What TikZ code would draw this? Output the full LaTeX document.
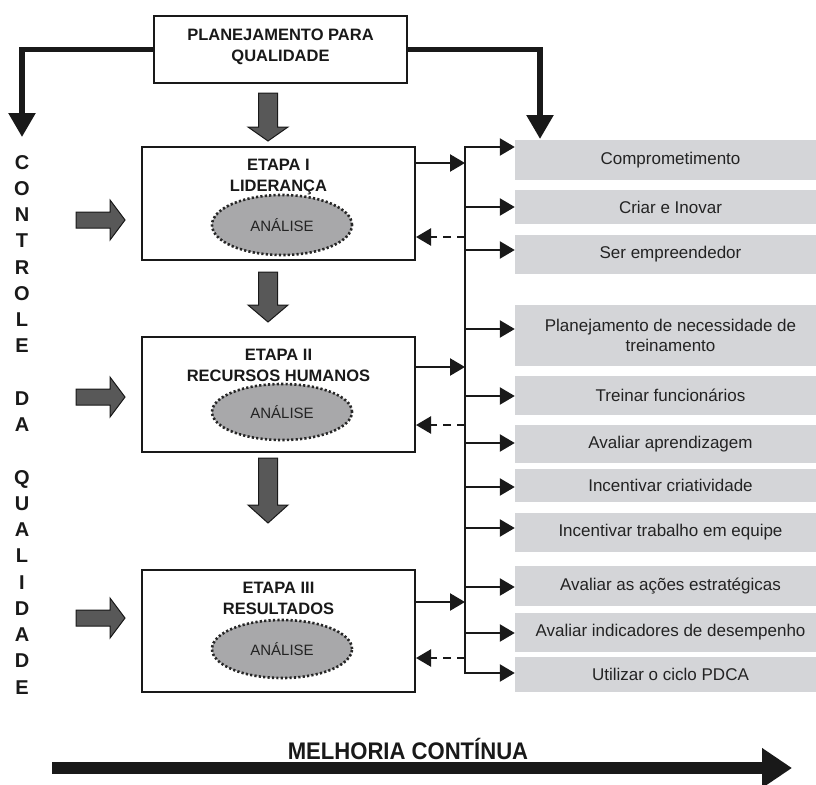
\documentclass[tikz,border=0pt]{standalone}
\usepackage{fontspec}
\usepackage{graphicx}
\setmainfont{Liberation Sans}
\usetikzlibrary{arrows.meta,shapes.geometric,calc}
\definecolor{itemgray}{RGB}{212,213,216}
\definecolor{ellgray}{RGB}{168,168,170}
\definecolor{blockgray}{RGB}{88,88,88}
\definecolor{txtgray}{RGB}{35,35,35}
\begin{document}
\begin{tikzpicture}[x=1pt,y=-1pt,
  stagebox/.style={draw=black!90, line width=2pt, rectangle, inner sep=0pt},
  titletxt/.style={font=\fontsize{16.5}{20.5}\selectfont\bfseries, align=center, inner sep=0pt, anchor=north, text=black!90},
  anal/.style={ellipse, fill=ellgray, draw=black!85, line width=2.6pt, dash pattern=on 2.2pt off 2.2pt, minimum width=140pt, inner sep=0pt, font=\fontsize{15}{18}\selectfont, text=txtgray},
  item/.style={rectangle, fill=itemgray, minimum width=311pt, inner sep=0pt, align=center, font=\fontsize{17}{20.5}\selectfont, text=txtgray},
  conn/.style={line width=2.4pt, draw=black!90, -{Triangle[length=15pt,width=17pt]}},
  dconn/.style={line width=2.4pt, draw=black!90, dash pattern=on 8pt off 6pt, -{Triangle[length=15pt,width=17pt]}},
  bus/.style={line width=2.4pt, draw=black!90, line cap=rect},
  thickconn/.style={line width=5.5pt, draw=black!90, line join=miter, -{Triangle[length=24pt,width=26pt]}},
  blockarr/.style={fill=blockgray, draw=black!90, line width=1pt, line join=miter},
  vert/.style={font=\fontsize{20}{24}\selectfont\bfseries, inner sep=0pt, text height=14.3pt, text depth=0pt, text=black!90}
]
\useasboundingbox (0,0) rectangle (816,784);

% top planning box
\node[stagebox, minimum width=253pt, minimum height=67pt] (top) at (280.5,49.5) {};
\node[titletxt] (toptxt) at (280.5,29) {PLANEJAMENTO PARA\\QUALIDADE};

\coordinate (cl) at (22,137);
\coordinate (cr) at (540,139);
\draw[thickconn] (top.west) -| (cl);
\draw[thickconn] (top.east) -| (cr);

% stage boxes
\node[stagebox, minimum width=273pt, minimum height=113pt] (s1) at (278.5,203.5) {};
\node[titletxt] (s1t) at (278.5,159) {ETAPA I\\LIDERANÇA};
\node[anal, minimum height=60pt] (e1) at (282,225) {ANÁLISE};

\node[stagebox, minimum width=273pt, minimum height=115pt] (s2) at (278.5,394.5) {};
\node[titletxt] (s2t) at (278.5,349) {ETAPA II\\RECURSOS HUMANOS};
\node[anal, minimum height=56pt] (e2) at (282,412) {ANÁLISE};

\node[stagebox, minimum width=273pt, minimum height=122pt] (s3) at (278.5,631) {};
\node[titletxt] (s3t) at (278.5,582) {ETAPA III\\RESULTADOS};
\node[anal, minimum height=58pt] (e3) at (282,649) {ANÁLISE};

% down block arrows
\foreach \t/\h/\b in {93/127/141, 272/305/322, 458/505/523}{
  \draw[blockarr] (258.5,\t) -- (277.5,\t) -- (277.5,\h) -- (288,\h) -- (268,\b) -- (248,\h) -- (258.5,\h) -- cycle;
}

% left block arrows
\foreach \c in {220,397,618}{
  \draw[blockarr] (76,\c-8) -- (110,\c-8) -- (110,\c-20) -- (125,\c) -- (110,\c+20) -- (110,\c+8) -- (76,\c+8) -- cycle;
}

% vertical text
\foreach \ch/\k in {C/0,O/1,N/2,T/3,R/4,O/5,L/6,E/7,D/9,A/10,Q/12,U/13,A/14,L/15,I/16,D/17,A/18,D/19,E/20}{
  \node[vert] (v\k) at (22,162+\k*26.25) {\ch};
}

% bus
\coordinate (bt) at (465,147);
\coordinate (bb) at (465,673);
\draw[bus] (bt) -- (bb);

% items
\foreach \n/\tp/\bt/\ay/\txt in {
  1/140/180/147/Comprometimento,
  2/190/224/207/Criar e Inovar,
  3/235/274/250/Ser empreendedor,
  4/305/366/329/{Planejamento de necessidade de\\treinamento},
  5/376/415/396/Treinar funcionários,
  6/425/463/443/Avaliar aprendizagem,
  7/469/502/487/Incentivar criatividade,
  8/513/552/528/Incentivar trabalho em equipe,
  9/566/606/587/Avaliar as ações estratégicas,
  10/613/652/633/Avaliar indicadores de desempenho,
  11/657/692/673/Utilizar o ciclo PDCA}{
  \pgfmathsetmacro\hh{\bt-\tp}
  \pgfmathsetmacro\cy{(\bt+\tp)/2}
  \node[item, minimum height=\hh pt] (i\n) at (670.5,\cy) {\txt};
  \draw[conn] (bt |- 0,\ay) -- (i\n.west |- 0,\ay);
}

% stage to bus connectors
\draw[conn] (s1.east |- 0,163) -- (bt |- 0,163);
\draw[conn] (s2.east |- 0,367) -- (bt |- 0,367);
\draw[conn] (s3.east |- 0,602) -- (bt |- 0,602);
\draw[dconn] (bt |- 0,237) -- (s1.east |- 0,237);
\draw[dconn] (bt |- 0,425) -- (s2.east |- 0,425);
\draw[dconn] (bt |- 0,658) -- (s3.east |- 0,658);

% continuous improvement
\node[inner sep=0pt, font=\fontsize{24}{28}\selectfont\bfseries, text=black!90] (mc) at (408,749) {\scalebox{0.92}[1]{MELHORIA CONTÍNUA}};
\coordinate (ms) at (52,768);
\coordinate (me) at (792,768);
\draw[line width=12pt, draw=black!90, -{Triangle[length=30pt,width=38pt]}] (ms) -- (me);
\end{tikzpicture}
\end{document}
